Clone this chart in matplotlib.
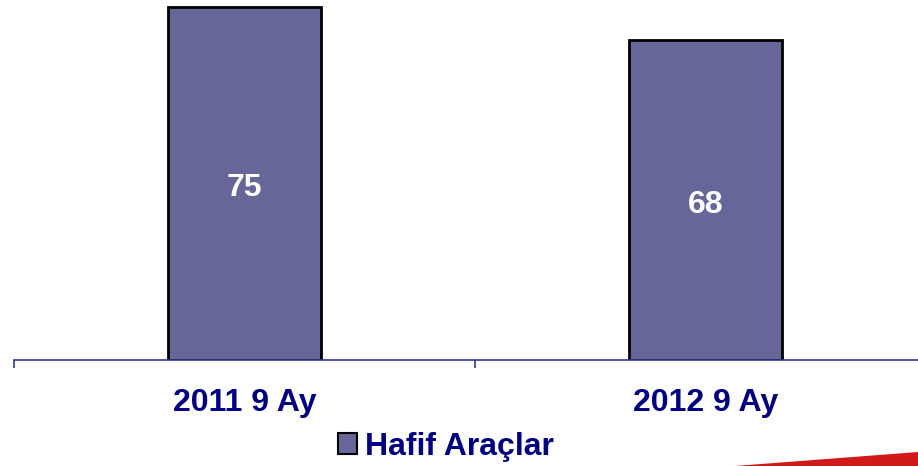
import matplotlib.pyplot as plt
from matplotlib.patches import Polygon

# Veriler
kategoriler = ['2011 9 Ay', '2012 9 Ay']
hafif_araclar = [75, 68]
seri_adi = 'Hafif Araçlar'

plt.rcParams['font.family'] = ['Liberation Sans', 'DejaVu Sans']

fig = plt.figure(figsize=(9.18, 4.66), dpi=100)
ax = fig.add_axes([14 / 918, 106 / 466, 922 / 918, 360 / 466])

x = range(len(kategoriler))
bars = ax.bar(x, hafif_araclar, width=0.332, color='#666699',
              edgecolor='black', linewidth=2, label=seri_adi)

# Değer etiketleri (çubuk ortasında)
for b, v in zip(bars, hafif_araclar):
    ax.annotate(str(v), (b.get_x() + b.get_width() / 2, v / 2),
                xytext=(0, -3.5), textcoords='offset points',
                ha='center', va='center', color='white',
                fontsize=23, fontweight='bold')

ax.set_xlim(-0.5, 1.5)
ax.set_ylim(0, 75 * 360 / 353)

for s in ['top', 'right', 'left']:
    ax.spines[s].set_visible(False)
ax.spines['bottom'].set_color('#333399')
ax.spines['bottom'].set_linewidth(1.2)
ax.set_yticks([])

ax.set_xticks([-0.5, 0.5, 1.5])
ax.set_xticklabels([])
ax.tick_params(axis='x', which='major', length=6, width=1.2, color='#333399')
ax.set_xticks(list(x), kategoriler, minor=True)
ax.tick_params(axis='x', which='minor', length=0, pad=20,
               labelsize=23, labelcolor='#000080')
for lbl in ax.get_xticklabels(minor=True):
    lbl.set_fontweight('bold')

leg = fig.legend(handles=[bars[0]], labels=[seri_adi], loc='center',
                 bbox_to_anchor=(446 / 918, 1 - 447 / 466), frameon=False,
                 fontsize=23, handlelength=0.62, handleheight=0.62,
                 handletextpad=0.25, borderpad=0)
for t in leg.get_texts():
    t.set_color('#000080')
    t.set_fontweight('bold')
leg.legend_handles[0].set_linewidth(1.5)

# Sağ alttaki kırmızı şerit
fig.patches.append(Polygon([(735 / 918, 0), (1, 14 / 466), (1, 0)],
                           closed=True, transform=fig.transFigure,
                           facecolor='#cc0000', edgecolor='none', alpha=0.9))

fig.savefig('out.png', dpi=100)
